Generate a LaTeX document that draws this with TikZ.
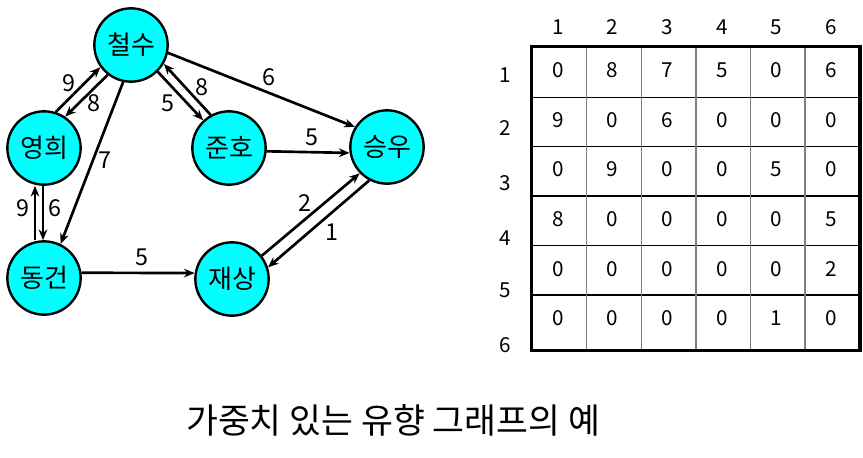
\documentclass[tikz,border=0pt]{standalone}
\usepackage{fontspec}
\setmainfont{Noto Sans CJK KR}
\usetikzlibrary{arrows.meta}
\definecolor{nodecyan}{RGB}{0,255,255}
\begin{document}
\begin{tikzpicture}[x=0.75pt,y=-0.75pt,
 person/.style={circle,draw,line width=1.8pt,fill=nodecyan,minimum size=55pt,inner sep=0pt,font=\fontsize{19.5}{22}\selectfont},
 edge/.style={line width=2pt,-{Stealth[length=8pt,width=6.5pt]}},
 wt/.style={font=\fontsize{17.5}{20}\selectfont,inner sep=0pt},
 cell/.style={font=\fontsize{15.5}{18}\selectfont,inner sep=0pt},
 caption/.style={font=\fontsize{26}{30}\selectfont,inner sep=0pt},
]
\useasboundingbox (0,0) rectangle (863,457);
% nodes
\node[person] (cs) at (131,45) {철수};
\node[person] (yh) at (44,148) {영희};
\node[person] (dg) at (44,278) {동건};
\node[person] (jh) at (229,148) {준호};
\node[person] (sw) at (387,147) {승우};
\node[person] (js) at (232,279) {재상};
% edges
\draw[edge] (yh.72) -- (cs.216);
\draw[edge] (cs.232) -- (yh.56);
\draw[edge] ([xshift=-6.75pt]dg.north) -- ([xshift=-6.75pt]yh.south);
\draw[edge] ([xshift=-0.75pt]yh.south) -- ([xshift=-0.75pt]dg.north);
\draw[edge] (cs.258) -- (dg.64);
\draw[edge] (cs.315) -- (jh.133);
\draw[edge] (jh.119) -- (cs.330);
\draw[edge] (cs.348) -- (sw.148);
\draw[edge] (jh.-5) -- (sw.189);
\draw[edge] (dg.8) -- (js.171);
\draw[edge] (js.38) -- (sw.224);
\draw[edge] (sw.242) -- (js.18);
% weights
\node[wt] (w1) at (69,83) {9};
\node[wt] (w2) at (94,103) {8};
\node[wt] (w3) at (105,160) {7};
\node[wt] (w4) at (168,103) {5};
\node[wt] (w5) at (202,87) {8};
\node[wt] (w6) at (269,77) {6};
\node[wt] (w7) at (312,137) {5};
\node[wt] (w8) at (23,208) {9};
\node[wt] (w9) at (55,208) {6};
\node[wt] (w10) at (142,257) {5};
\node[wt] (w11) at (305,203) {2};
\node[wt] (w12) at (332,232) {1};
% table grid
\foreach \y in {97.3,146.7,196,245.7,295}
  \draw[line width=0.9pt] (531.7,\y) -- (860,\y);
\foreach \x in {586.7,641.7,696,750.7,805}
  \draw[line width=1.1pt,gray] (\x,46.7) -- (\x,350.7);
\draw[line width=2.4pt] (531.7,46.7) rectangle (860,350.7);
% headers
\foreach \c in {1,...,6}
  \node[cell] (h\c) at ({558+(\c-1)*54.6},27) {\c};
\foreach \r/\y in {1/75,2/128,3/183,4/238,5/290,6/345}
  \node[cell] (r\r) at (505,\y) {\r};
% values
\foreach \r/\y/\vals in {1/70/{0,8,7,5,0,6},2/120/{9,0,6,0,0,0},3/169/{0,9,0,0,5,0},4/219/{8,0,0,0,0,5},5/269/{0,0,0,0,0,2},6/318/{0,0,0,0,1,0}}{
  \foreach \v [count=\c] in \vals
    \node[cell] (m\r-\c) at ({558+(\c-1)*54.6},\y) {\v};
}
% caption
\node[caption] (cap) at (393,420) {가중치 있는 유향 그래프의 예};
\end{tikzpicture}
\end{document}
